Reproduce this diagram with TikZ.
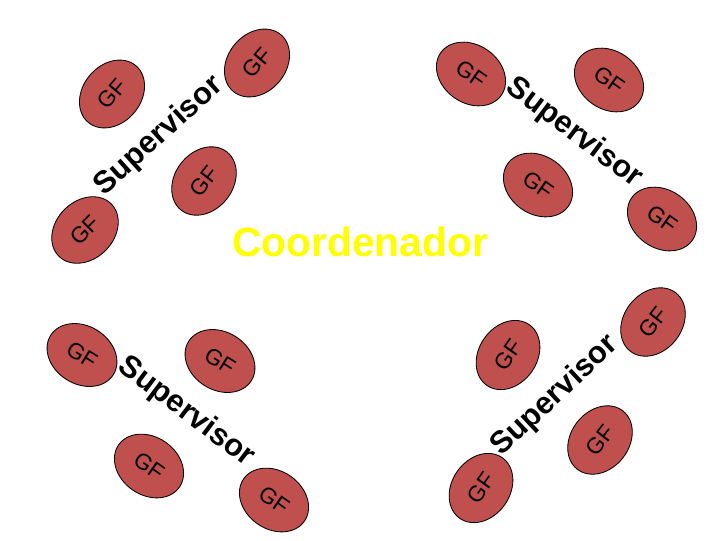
\documentclass[tikz,border=0pt]{standalone}
\usepackage{fontspec}
\setmainfont{Liberation Sans}
\usetikzlibrary{shapes.geometric}
\definecolor{gfred}{RGB}{192,80,77}
\definecolor{coordyellow}{RGB}{255,255,0}
\tikzset{
    gf/.style={ellipse, draw=black, fill=gfred, line width=0.6pt,
        minimum width=1.85cm, minimum height=1.45cm, inner sep=0pt,
        font=\fontsize{16}{18}\selectfont},
    sup/.style={font=\fontsize{22}{24}\selectfont\bfseries, inner sep=0pt},
    coord/.style={font=\fontsize{29}{32}\selectfont\bfseries,
        text=coordyellow, inner sep=0pt}
}
\begin{document}
\begin{tikzpicture}[x=0.025cm, y=-0.025cm]
    \useasboundingbox (0,0) rectangle (720,540);
    \node[gf, rotate=50] (gfA) at (257,63) {GF};
    \node[gf, rotate=50] (gfB) at (112,94) {GF};
    \node[gf, rotate=52] (gfC) at (204,181) {GF};
    \node[gf, rotate=45] (gfD) at (85,230) {GF};
    \node[sup, rotate=42] (supA) at (159,136) {Supervisor};
    \node[gf, rotate=-35] (gfE) at (471,74) {GF};
    \node[gf, rotate=-35] (gfF) at (609,80) {GF};
    \node[gf, rotate=-35] (gfG) at (538,185) {GF};
    \node[gf, rotate=-35] (gfH) at (662,219) {GF};
    \node[sup, rotate=-37] (supB) at (574,133) {Supervisor};
    \node[gf, rotate=-32] (gfI) at (82,355) {GF};
    \node[gf, rotate=-32] (gfJ) at (220,361) {GF};
    \node[gf, rotate=-35] (gfK) at (149,466) {GF};
    \node[gf, rotate=-35] (gfL) at (274,500) {GF};
    \node[sup, rotate=-37] (supC) at (186,412) {Supervisor};
    \node[gf, rotate=55] (gfM) at (508,355) {GF};
    \node[gf, rotate=52] (gfN) at (653,322) {GF};
    \node[gf, rotate=52] (gfO) at (600,440) {GF};
    \node[gf, rotate=55] (gfP) at (481,488) {GF};
    \node[sup, rotate=43] (supD) at (555,396) {Supervisor};
    \node[coord] (coord) at (360,242) {Coordenador};
\end{tikzpicture}
\end{document}
